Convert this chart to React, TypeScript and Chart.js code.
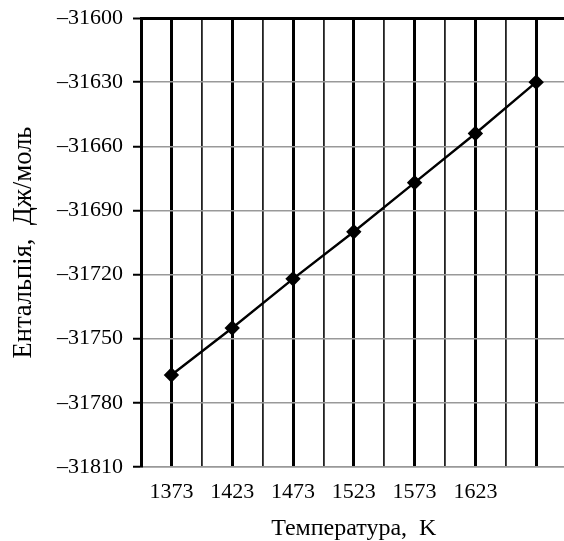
import React, { useEffect, useRef } from "react";
import { Chart, registerables } from "chart.js";

Chart.register(...registerables);

const temperatures = [1373, 1423, 1473, 1523, 1573, 1623, 1673];
const enthalpy = [-31767, -31745, -31722, -31700, -31677, -31654, -31630];
const xTickLabels = ["1373", "1423", "1473", "1523", "1573", "1623", ""];
const yTicks = [-31810, -31780, -31750, -31720, -31690, -31660, -31630, -31600];
const xTitle = "Температура,\u2002K";
const yTitle = "Ентальпія,\u2002Дж/моль";

const FONT = "'Liberation Serif', 'Times New Roman', serif";

export default function App() {
  const ref = useRef<HTMLCanvasElement | null>(null);

  useEffect(() => {
    document.body.style.margin = "0";
    document.body.style.overflow = "hidden";
    const canvas = ref.current;
    if (!canvas) return;

    const half = (temperatures[1] - temperatures[0]) / 2;
    const xTickValues: number[] = [];
    temperatures.forEach((t) => {
      xTickValues.push(t - half);
      xTickValues.push(t);
    });
    xTickValues.push(temperatures[temperatures.length - 1] + half);
    const labelMap = new Map<number, string>();
    temperatures.forEach((t, i) => labelMap.set(t, xTickLabels[i]));

    const chart = new Chart(canvas, {
      type: "line",
      data: {
        datasets: [
          {
            data: temperatures.map((t, i) => ({ x: t, y: enthalpy[i] })),
            borderColor: "#000",
            backgroundColor: "#000",
            borderWidth: 2.4,
            pointStyle: "rectRot",
            pointRadius: 6,
            pointBackgroundColor: "#000",
            pointBorderColor: "#000",
            tension: 0,
          },
        ],
      },
      options: {
        animation: false,
        responsive: true,
        maintainAspectRatio: false,
        layout: { padding: { top: 18, left: 0, right: 0, bottom: 0 } },
        plugins: { legend: { display: false }, tooltip: { enabled: false } },
        scales: {
          x: {
            type: "linear",
            min: temperatures[0] - half,
            max: temperatures[temperatures.length - 1] + half,
            afterBuildTicks: (scale: any) => {
              scale.ticks = xTickValues.map((v) => ({ value: v }));
            },
            afterFit: (scale: any) => {
              scale.height = 74;
              scale.paddingLeft = 0;
              scale.paddingRight = 0;
            },
            grid: {
              drawTicks: false,
              color: (ctx: any) => (ctx.tick && labelMap.has(ctx.tick.value) ? "#000" : "#222"),
              lineWidth: (ctx: any) => (ctx.tick && labelMap.has(ctx.tick.value) ? 3 : 1.8),
            },
            border: { color: "#999", width: 1.5 },
            ticks: {
              autoSkip: false,
              maxRotation: 0,
              padding: 12,
              color: "#000",
              font: { family: FONT, size: 22 },
              callback: (v: any) => labelMap.get(Number(v)) ?? "",
            },
            title: {
              display: true,
              text: xTitle,
              color: "#000",
              font: { family: FONT, size: 24, lineHeight: 1.0 },
              padding: { top: 0, bottom: 0 },
            },
          },
          y: {
            type: "linear",
            min: yTicks[0],
            max: yTicks[yTicks.length - 1],
            afterBuildTicks: (scale: any) => {
              scale.ticks = yTicks.map((v) => ({ value: v }));
            },
            afterFit: (scale: any) => {
              scale.width = 141;
              scale.paddingTop = 0;
              scale.paddingBottom = 0;
            },
            grid: {
              drawTicks: true,
              tickLength: 8,
              tickColor: "#000",
              tickWidth: 2,
              color: (ctx: any) =>
                ctx.tick && ctx.tick.value === yTicks[yTicks.length - 1] ? "#000" : "#999",
              lineWidth: (ctx: any) =>
                ctx.tick && ctx.tick.value === yTicks[yTicks.length - 1] ? 3 : 1.5,
            },
            border: { color: "#000", width: 3 },
            ticks: {
              padding: 10,
              color: "#000",
              font: { family: FONT, size: 22 },
              callback: (v: any) => String(v).replace("-", "\u2013"),
            },
            title: {
              display: true,
              text: yTitle,
              color: "#000",
              font: { family: FONT, size: 26.5 },
              padding: { top: 8, bottom: 0 },
            },
          },
        },
      },
    });
    return () => chart.destroy();
  }, []);

  return (
    <div style={{ width: 564, height: 541, overflow: "hidden", position: "relative" }}>
      <div style={{ width: 575, height: 541, position: "relative" }}>
        <canvas ref={ref} />
      </div>
    </div>
  );
}
